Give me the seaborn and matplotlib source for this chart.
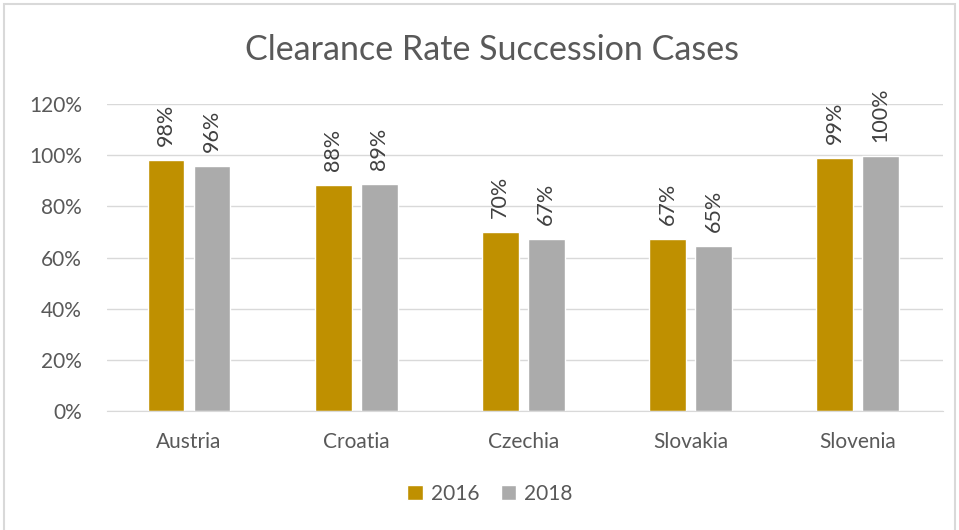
import matplotlib
matplotlib.use("Agg")
import matplotlib.pyplot as plt
import seaborn as sns
import pandas as pd
from matplotlib.patches import Rectangle

countries = ["Austria", "Croatia", "Czechia", "Slovakia", "Slovenia"]
rate_2016 = [98.1, 88.3, 70.0, 67.2, 98.9]
rate_2018 = [95.8, 88.7, 67.2, 64.5, 99.7]
labels_2016 = ["98%", "88%", "70%", "67%", "99%"]
labels_2018 = ["96%", "89%", "67%", "65%", "100%"]
years = ["2016", "2018"]

df = pd.DataFrame({
    "country": countries * 2,
    "year": [years[0]] * 5 + [years[1]] * 5,
    "rate": rate_2016 + rate_2018,
})

sns.set_style("white")
plt.rcParams["font.family"] = ["Lato", "DejaVu Sans"]

fig = plt.figure(figsize=(9.59, 5.30), dpi=100)
ax = fig.add_axes([0.1116, 0.2245, 0.8717, 0.5793])

sns.barplot(data=df, x="country", y="rate", hue="year", ax=ax,
            palette={"2016": "#BF9000", "2018": "#ABABAB"},
            width=0.55, gap=0.2, errorbar=None, saturation=1)

for cont, labs in zip(ax.containers, [labels_2016, labels_2018]):
    ax.bar_label(cont, labels=labs, rotation=90, padding=10,
                 fontsize=15.5, color="#404040")

ax.set_ylim(0, 120)
ax.set_xlim(-0.49, 4.51)
ax.set_yticks(range(0, 121, 20))
ax.set_yticklabels([f"{v}%" for v in range(0, 121, 20)])
ax.yaxis.grid(True, color="#D9D9D9", linewidth=1)
ax.set_axisbelow(True)
for s in ["top", "right", "left"]:
    ax.spines[s].set_visible(False)
ax.spines["bottom"].set_color("#D9D9D9")
ax.tick_params(axis="both", length=0, labelsize=15, labelcolor="#595959")
ax.tick_params(axis="x", pad=15)
ax.tick_params(axis="y", pad=18)
ax.set_xlabel("")
ax.set_ylabel("")

fig.text(0.513, 0.905, "Clearance Rate Succession Cases", ha="center", va="center",
         fontsize=24.5, color="#595959")

ax.legend(loc="center", bbox_to_anchor=(0.511, 0.068), bbox_transform=fig.transFigure,
          ncol=2, frameon=False, fontsize=15, handlelength=0.75, handleheight=0.75,
          columnspacing=1.0, handletextpad=0.4, labelcolor="#595959")

fig.patches.append(Rectangle((4 / 959, -0.01), 951 / 959, 1 - 4 / 530 + 0.01,
                             transform=fig.transFigure, fill=False,
                             edgecolor="#D9D9D9", linewidth=1.5))

fig.savefig("out.png", dpi=100)
